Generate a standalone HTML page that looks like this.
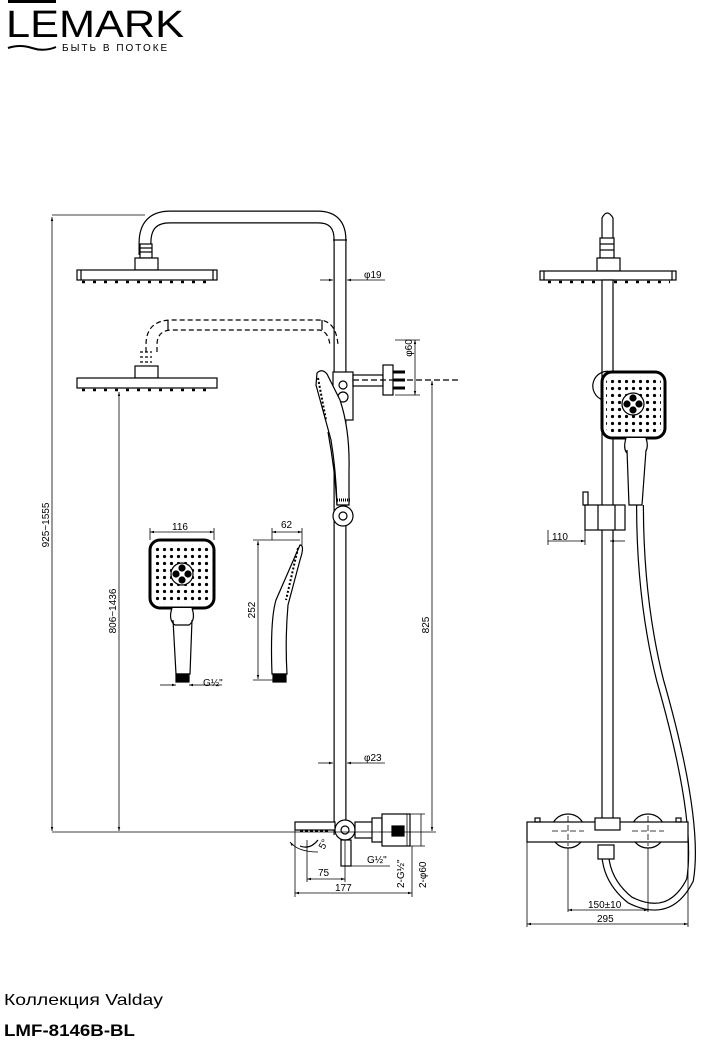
<!DOCTYPE html>
<html><head><meta charset="utf-8"><style>
html,body{margin:0;padding:0;background:#fff;width:711px;height:1044px;overflow:hidden}
svg{display:block}
text{font-family:"Liberation Sans",sans-serif;fill:#000}
</style></head><body>
<svg width="711" height="1044" viewBox="0 0 711 1044" xmlns="http://www.w3.org/2000/svg">
<defs>
<marker id="a" viewBox="0 0 10 10" refX="10" refY="5" markerWidth="7" markerHeight="5" orient="auto-start-reverse"><path d="M0,2 L10,5 L0,8z" fill="#000"/></marker>
<pattern id="dots" width="7" height="7" patternUnits="userSpaceOnUse"><circle cx="3.5" cy="3.5" r="1.6" fill="#000"/></pattern>
</defs>

<!-- Logo -->
<rect x="8" y="0" width="48" height="3" fill="#000"/>
<text x="6" y="37" font-size="38" textLength="178" lengthAdjust="spacingAndGlyphs">LEMARK</text>
<path d="M8,48 Q20,44 32,48 T56,47" stroke="#000" stroke-width="2" fill="none"/>
<text x="62" y="51" font-size="10" style="letter-spacing:2px">БЫТЬ В ПОТОКЕ</text>

<g fill="none" stroke="#000" stroke-width="1.2">
<path d="M145,255 L145,243 Q145,217 170,217 L318,217 Q340,217 340,240 L340,835" stroke-width="13"/>
<path d="M145,255 L145,243 Q145,217 170,217 L318,217 Q340,217 340,240 L340,835" stroke="#fff" stroke-width="10.6"/>
<rect x="140" y="244" width="12" height="14" fill="#fff"/>
<line x1="140" y1="248" x2="152" y2="248"/><line x1="140" y1="252" x2="152" y2="252"/>
<rect x="135" y="258" width="23" height="12" fill="#fff"/>
<rect x="77" y="270" width="140" height="10" fill="#fff"/>
<line x1="81" y1="270" x2="81" y2="280"/><line x1="213" y1="270" x2="213" y2="280"/>
<line x1="82" y1="282" x2="212" y2="282" stroke-dasharray="3 8" stroke-width="2.5"/>
<path d="M146,352 L146,345 Q146,320 172,320 L318,320 Q336,320 338,345" stroke-dasharray="5 3"/>
<path d="M157,352 L157,345 Q157,330 172,330 L318,330 Q328,330 330,345" stroke-dasharray="5 3"/>
<line x1="168" y1="320" x2="168" y2="330"/><line x1="322" y1="320" x2="322" y2="330"/>
<path d="M140,352 h12 M140,357 h12 M140,362 h12" stroke-dasharray="3 2"/>
<rect x="135" y="366" width="23" height="12" fill="#fff"/>
<rect x="77" y="378" width="140" height="10" fill="#fff"/>
<line x1="82" y1="390" x2="212" y2="390" stroke-dasharray="3 8" stroke-width="2.5"/>
<line x1="333" y1="240" x2="347" y2="240"/>
<rect x="333" y="372" width="20" height="48" fill="#fff"/>
<circle cx="343" cy="385" r="4"/><circle cx="343" cy="397" r="5"/>
<rect x="353" y="375" width="30" height="11" fill="#fff"/>
<rect x="383" y="365" width="10" height="30" fill="#fff"/>
<path d="M393,372 h12 M393,380 h12 M393,388 h12" stroke-width="3"/>
<line x1="353" y1="380" x2="460" y2="380" stroke-dasharray="6 3"/>
<path d="M317,373 Q322,368 327,374 L340,400 Q350,430 349,470 L349,505 L337,505 Q336,470 331,440 L316,385 Z" fill="#fff"/>
<path d="M318,378 L326,420" stroke-dasharray="2 2" stroke-width="2"/>
<path d="M328,432 Q335,470 337,505"/>
<circle cx="343" cy="516" r="10" fill="#fff"/><circle cx="343" cy="516" r="4"/>
<line x1="337" y1="500" x2="350" y2="500" stroke-dasharray="1 1" stroke-width="3"/>
<rect x="295" y="822" width="40" height="8" fill="#fff"/>
<line x1="300" y1="831" x2="330" y2="831" stroke-width="2" stroke-dasharray="3 2"/>
<circle cx="345" cy="830" r="10" fill="#fff"/><circle cx="345" cy="830" r="4"/>
<rect x="341" y="840" width="10" height="26" fill="#fff"/>
<rect x="355" y="822" width="18" height="16" fill="#fff"/>
<rect x="372" y="818" width="10" height="24" fill="#fff"/>
<rect x="382" y="814" width="28" height="32" fill="#fff"/>
<rect x="392" y="826" width="12" height="10" fill="#000"/>
<path d="M300,846 Q310,850 318,840" />
</g>

<g stroke="#000" stroke-width="0.8" fill="none">
<line x1="52" y1="215" x2="145" y2="215"/>
<line x1="52" y1="217" x2="52" y2="831" marker-start="url(#a)" marker-end="url(#a)"/>
<line x1="52" y1="832" x2="436" y2="832"/>
<line x1="119" y1="392" x2="119" y2="831" marker-start="url(#a)" marker-end="url(#a)"/>
<line x1="432" y1="381" x2="432" y2="831" marker-start="url(#a)" marker-end="url(#a)"/>
<line x1="395" y1="340" x2="420" y2="340"/><line x1="395" y1="395" x2="420" y2="395"/>
<line x1="415" y1="340" x2="415" y2="395" marker-start="url(#a)" marker-end="url(#a)"/>
<line x1="320" y1="280" x2="333" y2="280" marker-end="url(#a)"/><line x1="362" y1="280" x2="347" y2="280" marker-end="url(#a)"/><line x1="362" y1="280" x2="385" y2="280"/>
<line x1="318" y1="763" x2="333" y2="763" marker-end="url(#a)"/><line x1="362" y1="763" x2="347" y2="763" marker-end="url(#a)"/><line x1="362" y1="763" x2="385" y2="763"/>
<line x1="295" y1="830" x2="295" y2="897"/><line x1="307" y1="840" x2="307" y2="882"/>
<line x1="345" y1="840" x2="345" y2="882"/><line x1="412" y1="846" x2="412" y2="897"/>
<line x1="307" y1="879" x2="345" y2="879" marker-start="url(#a)" marker-end="url(#a)"/>
<line x1="295" y1="893" x2="412" y2="893" marker-start="url(#a)" marker-end="url(#a)"/>
<line x1="350" y1="866" x2="390" y2="866"/>
<line x1="395" y1="814" x2="425" y2="814"/><line x1="395" y1="846" x2="425" y2="846"/>
<line x1="407" y1="814" x2="407" y2="846"/><line x1="421" y1="814" x2="421" y2="846"/>
<path d="M290,842 Q298,852 318,852" marker-start="url(#a)"/>
</g>
<g font-size="10">
<text transform="translate(49,525) rotate(-90)" text-anchor="middle">925~1555</text>
<text transform="translate(116,611) rotate(-90)" text-anchor="middle">806~1436</text>
<text transform="translate(429,625) rotate(-90)" text-anchor="middle">825</text>
<text transform="translate(412,348) rotate(-90)" text-anchor="middle">φ60</text>
<text x="364" y="278">φ19</text>
<text x="364" y="761">φ23</text>
<text x="318" y="876">75</text>
<text x="335" y="891">177</text>
<text x="367" y="863">G½"</text>
<text transform="translate(324,850) rotate(-60)">5°</text>
<text transform="translate(404,888) rotate(-90)">2-G½"</text>
<text transform="translate(426,888) rotate(-90)">2-φ60</text>
</g>

<g stroke="#000" fill="none" stroke-width="1.2">
<rect x="150" y="540" width="64" height="68" rx="10" fill="#fff" stroke-width="3"/>
<rect x="154" y="544" width="56" height="60" rx="7" fill="url(#dots)" stroke="none"/>
<circle cx="182" cy="574" r="11" fill="#fff"/>
<circle cx="182" cy="568" r="3" fill="#000"/><circle cx="182" cy="580" r="3" fill="#000"/>
<circle cx="176" cy="574" r="3" fill="#000"/><circle cx="188" cy="574" r="3" fill="#000"/>
<path d="M172,608 Q168,620 175,625 L189,625 Q196,620 192,608" fill="#fff"/>
<path d="M173,620 L176,674 L190,674 L192,620"/>
<rect x="176" y="674" width="13" height="8" fill="#000"/>
<path d="M300,545 Q305,545 300,560 L288,605 Q285,640 287,674 L272,674 Q270,620 276,600 Z" fill="#fff"/>
<path d="M298,548 L286,600" stroke-dasharray="2 2" stroke-width="2"/>
<rect x="273" y="674" width="13" height="8" fill="#000"/>
</g>
<g stroke="#000" stroke-width="0.8" fill="none">
<line x1="150" y1="528" x2="150" y2="540"/><line x1="214" y1="528" x2="214" y2="540"/>
<line x1="150" y1="532" x2="214" y2="532" marker-start="url(#a)" marker-end="url(#a)"/>
<line x1="272" y1="528" x2="272" y2="540"/><line x1="302" y1="528" x2="302" y2="545"/>
<line x1="272" y1="532" x2="302" y2="532" marker-start="url(#a)" marker-end="url(#a)"/>
<line x1="253" y1="540" x2="300" y2="540"/><line x1="253" y1="680" x2="275" y2="680"/>
<line x1="258" y1="541" x2="258" y2="679" marker-start="url(#a)" marker-end="url(#a)"/>
<line x1="160" y1="685" x2="176" y2="685" marker-end="url(#a)"/><line x1="205" y1="685" x2="189" y2="685" marker-end="url(#a)"/><line x1="205" y1="685" x2="222" y2="685"/>
</g>
<g font-size="10">
<text x="172" y="530">116</text><text x="281" y="528">62</text>
<text transform="translate(255,610) rotate(-90)" text-anchor="middle">252</text>
<text x="203" y="686">G½"</text>
</g>

<g stroke="#000" fill="none" stroke-width="1.2">
<path d="M602,238 L602,218 Q607,208 613,218 L613,238" fill="#fff"/>
<rect x="600" y="238" width="14" height="20" fill="#fff"/>
<line x1="600" y1="244" x2="614" y2="244"/><line x1="600" y1="250" x2="614" y2="250"/>
<rect x="597" y="258" width="23" height="13" fill="#fff"/>
<rect x="540" y="271" width="136" height="9" fill="#fff"/>
<line x1="544" y1="271" x2="544" y2="280"/><line x1="672" y1="271" x2="672" y2="280"/>
<line x1="548" y1="282" x2="670" y2="282" stroke-dasharray="3 8" stroke-width="2.5"/>
<rect x="602" y="280" width="11" height="540" fill="#fff"/>
<path d="M603,400 A14,14 0 0 1 612,372"/>
<path d="M640,505 Q640,600 660,680 Q700,820 690,880 Q670,920 630,900 Q605,880 605,850" stroke-width="8"/>
<path d="M640,505 Q640,600 660,680 Q700,820 690,880 Q670,920 630,900 Q605,880 605,850" stroke="#fff" stroke-width="5.6"/>
<rect x="602" y="372" width="63" height="66" rx="10" fill="#fff" stroke-width="3"/>
<rect x="606" y="376" width="55" height="58" rx="7" fill="url(#dots)" stroke="none"/>
<circle cx="633" cy="404" r="11" fill="#fff"/>
<circle cx="633" cy="398" r="3" fill="#000"/><circle cx="633" cy="410" r="3" fill="#000"/>
<circle cx="627" cy="404" r="3" fill="#000"/><circle cx="639" cy="404" r="3" fill="#000"/>
<path d="M626,438 Q622,452 630,455 L642,455 Q650,450 646,438" fill="#fff"/>
<path d="M627,450 L629,505 L642,505 L646,450" fill="#fff"/>
<rect x="585" y="505" width="40" height="25" fill="#fff"/>
<line x1="598" y1="505" x2="598" y2="530"/><line x1="615" y1="505" x2="615" y2="530"/>
<rect x="583" y="492" width="5" height="13"/>
<circle cx="568" cy="831" r="17" fill="#fff"/><circle cx="648" cy="831" r="17" fill="#fff"/>
<rect x="527" y="822" width="161" height="20" fill="#fff"/>
<rect x="595" y="818" width="25" height="12" fill="#fff"/>
<rect x="598" y="845" width="16" height="14" fill="#fff"/>
<path d="M552,831 h32 M632,831 h32 M568,816 v30 M648,816 v30" stroke-dasharray="6 3" stroke-width="0.8"/>
<rect x="535" y="818" width="5" height="4"/><rect x="676" y="818" width="5" height="4"/>
</g>
<g stroke="#000" stroke-width="0.8" fill="none">
<line x1="548" y1="530" x2="548" y2="545"/><line x1="585" y1="530" x2="585" y2="545"/>
<line x1="548" y1="541" x2="585" y2="541" marker-end="url(#a)"/><line x1="625" y1="541" x2="610" y2="541" marker-end="url(#a)"/>
<line x1="568" y1="848" x2="568" y2="912"/><line x1="648" y1="848" x2="648" y2="912"/>
<line x1="527" y1="842" x2="527" y2="927"/><line x1="688" y1="842" x2="688" y2="927"/>
<line x1="568" y1="910" x2="648" y2="910" marker-start="url(#a)" marker-end="url(#a)"/>
<line x1="527" y1="924" x2="688" y2="924" marker-start="url(#a)" marker-end="url(#a)"/>
</g>
<g font-size="10">
<text x="552" y="540">110</text>
<text x="588" y="908">150±10</text>
<text x="597" y="922">295</text>
</g>

<text x="4" y="1005" font-size="16" textLength="159" lengthAdjust="spacingAndGlyphs">Коллекция Valday</text>
<text x="4" y="1036" font-size="17" font-weight="bold" textLength="131" lengthAdjust="spacingAndGlyphs">LMF-8146B-BL</text>
</svg>
</body></html>
